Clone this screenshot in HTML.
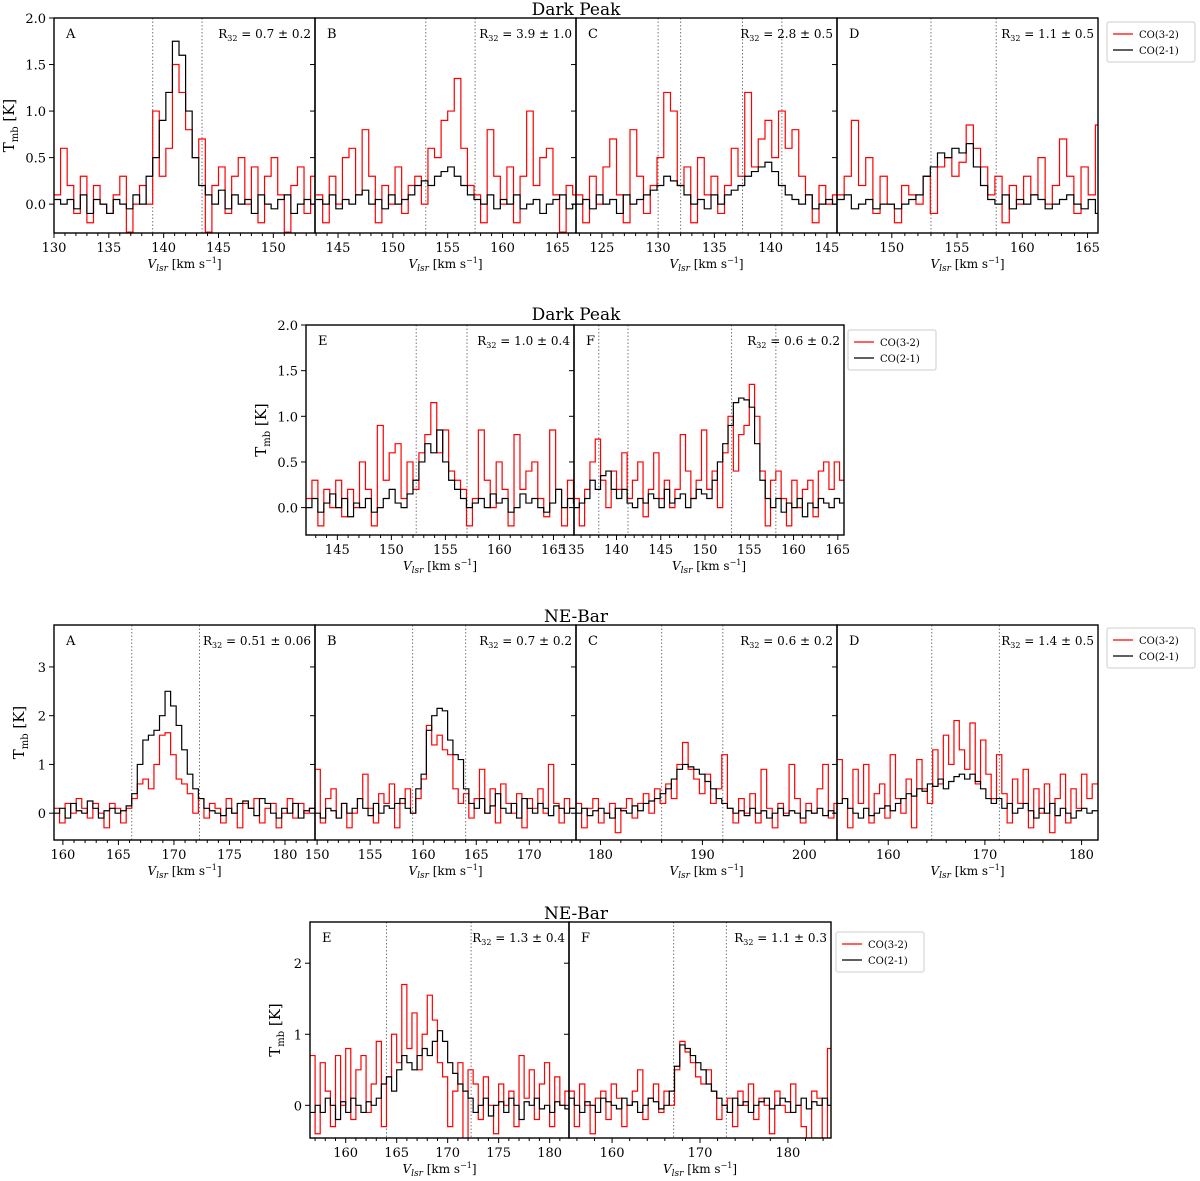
<!DOCTYPE html>
<html><head><meta charset="utf-8"><style>
body{margin:0;background:#fff;}
svg{display:block;font-family:"DejaVu Serif","Liberation Serif",serif;}
</style></head><body>
<svg id="fig" width="1200" height="1181" viewBox="0 0 1200 1181" xmlns="http://www.w3.org/2000/svg"></svg>
<script>
// ---- data: channel start velocities, channel widths, brightness temperatures ----
const dpA_v0=130, dpA_dv=0.6;
const dpA_red=[0.1,0.6,0.2,-0.1,0.3,-0.2,0.2,0.0,-0.1,0.1,0.3,-0.3,0.0,0.2,0.0,1.0,0.3,0.6,1.5,1.2,0.8,0.5,0.7,-0.3,0.2,0.4,-0.1,0.3,0.5,0.0,0.4,-0.2,0.3,0.5,0.1,-0.3,0.2,0.4,-0.1,0.3];
const dpA_black=[0.05,0.0,0.05,-0.05,0.1,-0.1,0.05,0.0,-0.1,0.05,0.0,-0.05,0.1,0.0,0.3,0.5,0.9,1.2,1.75,1.6,1.0,0.5,0.2,0.1,0.0,0.15,-0.05,0.1,0.0,0.05,-0.1,0.1,0.0,-0.05,0.05,0.1,-0.1,0.0,0.05,0.0];
const dpB_v0=143, dpB_dv=0.6;
const dpB_red=[0.1,-0.2,0.3,0.0,0.5,0.6,0.1,0.8,0.3,-0.2,0.2,0.0,0.4,-0.1,0.2,0.3,0.0,0.6,0.5,0.9,1.0,1.35,0.6,0.2,0.1,-0.2,0.8,0.3,0.0,0.4,-0.2,0.3,1.0,0.2,0.5,0.6,0.1,-0.3,0.2,0.1];
const dpB_black=[0.05,0.0,0.1,-0.05,0.05,0.0,0.1,0.15,0.0,0.05,-0.05,0.1,0.0,0.05,0.1,0.2,0.25,0.2,0.3,0.35,0.4,0.3,0.2,0.1,0.05,0.0,0.1,-0.05,0.05,0.0,0.1,-0.05,0.0,0.05,-0.1,0.0,0.05,0.1,-0.05,0.0];
const dpC_v0=122.7, dpC_dv=0.6;
const dpC_red=[0.1,-0.2,0.3,0.0,0.4,0.7,0.1,-0.2,0.8,0.3,-0.1,0.2,0.5,1.2,1.0,0.2,0.4,-0.2,0.5,0.1,0.3,-0.1,0.2,0.6,0.3,1.2,0.4,0.7,0.9,0.5,1.0,0.6,0.8,0.3,0.1,-0.2,0.2,0.0,0.1];
const dpC_black=[0.0,0.05,-0.05,0.1,0.0,0.05,-0.1,0.1,0.0,0.05,0.1,0.15,0.2,0.3,0.25,0.2,0.1,0.0,0.05,-0.05,0.1,0.0,0.1,0.15,0.2,0.3,0.35,0.4,0.45,0.35,0.2,0.1,0.05,0.0,0.1,-0.05,0.0,0.05,0.0];
const dpD_v0=145.8, dpD_dv=0.55;
const dpD_red=[0.1,0.3,0.9,0.2,0.5,-0.1,0.3,0.0,-0.2,0.2,0.1,0.0,0.3,-0.1,0.4,0.5,0.3,0.45,0.85,0.6,0.4,0.1,0.3,-0.2,0.2,0.0,0.3,0.1,0.5,0.0,0.2,0.7,0.3,-0.1,0.4,0.1,0.85];
const dpD_black=[0.05,0.1,-0.05,0.0,0.05,-0.05,0.0,0.0,-0.05,0.0,0.05,0.1,0.3,0.4,0.55,0.5,0.6,0.55,0.65,0.4,0.2,0.05,0.0,0.1,-0.05,0.05,0.0,0.1,0.05,-0.05,0.0,0.05,0.1,0.0,-0.05,0.05,-0.1];
const dpE_v0=142.1, dpE_dv=0.55;
const dpE_red=[0.1,0.3,-0.2,0.2,0.0,0.3,-0.1,0.2,0.0,0.5,0.2,-0.2,0.9,0.3,0.6,0.7,0.1,0.5,0.2,0.6,0.8,1.15,0.6,0.85,0.4,0.3,0.2,-0.2,0.1,0.85,0.3,0.0,0.5,0.2,-0.2,0.8,0.2,0.4,0.5,0.1,-0.1,0.85,0.2,-0.2,0.3,0.1];
const dpE_black=[0.0,0.1,-0.05,0.05,0.15,0.0,0.1,-0.1,0.05,0.0,0.1,-0.05,0.0,0.1,0.2,0.05,0.0,0.15,0.3,0.5,0.7,0.6,0.85,0.5,0.3,0.2,0.1,0.0,0.05,0.1,0.0,0.15,0.05,0.1,-0.05,0.0,0.15,0.05,0.1,0.0,-0.05,0.05,0.2,0.0,0.1,0.05];
const dpF_v0=135.2, dpF_dv=0.6;
const dpF_red=[0.1,-0.2,0.2,0.5,0.75,0.3,0.0,0.4,0.2,0.6,0.1,0.3,0.5,-0.1,0.2,0.6,0.1,0.3,0.0,0.2,0.8,0.4,0.1,0.3,0.85,0.2,0.4,0.0,0.6,1.0,0.4,0.8,0.9,1.35,1.0,0.4,-0.2,0.3,0.4,0.1,-0.2,0.3,0.0,0.2,0.3,-0.1,0.4,0.5,0.2,0.5,0.3];
const dpF_black=[0.0,0.05,0.1,0.3,0.2,0.35,0.4,0.2,0.1,0.2,0.05,0.0,0.1,0.05,0.15,0.1,0.0,0.2,0.05,0.1,0.15,0.0,0.1,0.2,0.15,0.1,0.3,0.5,0.7,0.9,1.15,1.2,1.18,1.1,0.7,0.3,0.1,0.0,0.1,-0.05,0.05,0.0,0.1,-0.1,0.05,0.0,0.1,0.05,0.0,0.1,0.05];
const neA_v0=159.2, neA_dv=0.5;
const neA_red=[0.1,-0.2,0.2,0.0,0.3,0.1,-0.1,0.2,0.0,-0.3,0.2,0.1,-0.2,0.1,0.3,0.6,0.7,0.5,1.0,1.6,1.65,1.2,0.7,0.6,0.4,0.0,0.3,-0.1,0.2,0.1,-0.2,0.3,0.0,-0.3,0.2,0.1,0.3,-0.2,0.1,0.2,-0.3,0.0,0.3,-0.1,0.2,0.0,0.1];
const neA_black=[0.0,0.1,-0.1,0.2,0.05,0.0,0.25,0.1,-0.1,0.05,0.1,0.0,0.05,0.15,0.4,1.0,1.5,1.6,1.7,2.0,2.5,2.2,1.8,1.3,0.8,0.5,0.3,0.1,0.05,0.0,-0.05,0.1,0.0,0.2,0.25,0.1,-0.05,0.3,0.2,0.0,-0.1,0.1,0.0,0.2,-0.1,0.05,0.1];
const neB_v0=149.8, neB_dv=0.5;
const neB_red=[0.9,-0.2,0.3,0.5,-0.1,0.2,-0.3,0.0,0.3,0.8,0.1,-0.2,0.4,0.2,0.6,-0.3,0.2,0.5,0.0,0.3,0.7,1.8,1.4,1.6,1.3,1.2,0.5,0.2,0.4,-0.1,0.3,0.9,0.0,0.5,-0.2,0.6,0.2,0.0,0.4,-0.3,0.3,0.1,0.5,0.0,1.0,0.2,-0.2,0.3,0.1];
const neB_black=[0.0,-0.1,0.1,0.05,-0.1,0.2,0.0,0.1,0.3,0.1,-0.05,0.2,0.0,0.15,0.1,0.2,0.3,0.1,0.0,0.5,0.8,1.7,2.0,2.15,2.1,1.5,1.2,1.1,0.5,0.2,0.1,0.3,0.0,0.15,0.4,0.1,0.0,0.2,-0.1,0.3,0.1,0.0,0.2,0.1,-0.05,0.15,0.1,0.0,0.1];
const neC_v0=177.6, neC_dv=0.55;
const neC_red=[0.2,-0.3,0.1,0.3,-0.2,0.0,0.2,-0.4,0.1,0.3,-0.1,0.2,0.4,0.0,0.5,0.2,0.6,0.3,1.0,1.45,0.9,0.7,0.4,0.8,0.2,0.5,1.2,0.1,-0.2,0.3,0.0,0.4,-0.2,0.9,0.1,-0.3,0.2,0.0,1.0,0.3,-0.2,0.2,0.0,0.5,1.0,-0.1,0.2];
const neC_black=[0.0,0.1,-0.05,0.05,0.1,0.0,-0.1,0.1,0.05,0.0,0.15,0.05,0.2,0.25,0.3,0.4,0.5,0.7,0.9,1.0,0.95,0.9,0.8,0.65,0.5,0.3,0.2,0.1,0.0,0.05,-0.05,0.1,0.0,0.05,-0.1,0.0,0.1,-0.05,0.05,0.0,-0.1,0.05,0.0,0.1,-0.05,0.05,0.0];
const neD_v0=154.7, neD_dv=0.55;
const neD_red=[1.1,0.3,-0.3,0.9,0.2,1.0,-0.2,0.4,0.6,-0.1,1.2,0.3,0.0,0.7,-0.3,1.1,0.5,0.2,1.3,0.6,1.6,1.0,1.9,1.3,0.9,1.85,0.6,1.5,0.8,0.3,1.2,0.4,-0.2,0.7,0.2,0.9,-0.3,0.5,0.0,0.6,-0.4,0.3,0.8,-0.2,0.5,0.1,0.8,0.3,0.6];
const neD_black=[0.2,0.3,0.1,0.0,-0.1,0.1,-0.05,0.0,0.1,0.15,0.05,0.2,0.3,0.4,0.35,0.5,0.45,0.6,0.55,0.7,0.5,0.65,0.75,0.8,0.7,0.8,0.65,0.5,0.3,0.2,0.3,0.1,0.2,0.0,0.1,0.2,0.05,-0.1,0.1,0.0,0.2,-0.05,0.1,0.0,-0.1,0.05,0.1,0.0,0.05];
const neE_v0=156.5, neE_dv=0.5;
const neE_red=[0.7,-0.4,0.6,0.2,-0.3,0.7,0.0,0.8,-0.2,0.5,0.7,-0.1,0.3,0.9,-0.3,0.4,1.0,0.6,1.7,0.8,1.3,0.5,1.0,1.55,1.2,0.6,0.4,-0.3,0.2,0.6,-0.5,0.5,0.3,-0.2,0.4,0.0,-0.4,0.3,0.0,0.2,-0.3,0.7,0.1,0.5,-0.2,0.3,0.6,-0.3,0.4,0.0,0.2];
const neE_black=[-0.1,0.0,-0.1,0.1,0.0,-0.2,0.05,-0.1,0.1,0.0,-0.1,0.05,0.0,0.1,0.3,0.4,0.2,0.5,0.7,0.6,0.5,0.7,0.8,0.7,0.9,1.05,0.9,0.6,0.45,0.3,0.2,0.1,-0.1,0.0,0.1,-0.15,0.0,0.05,-0.1,0.1,0.0,-0.2,0.05,0.0,0.1,-0.05,0.0,-0.1,0.05,0.0,-0.05];
const neF_v0=155.1, neF_dv=0.6;
const neF_red=[0.2,-0.3,0.3,0.0,-0.4,0.1,0.2,-0.2,0.3,0.1,-0.3,0.0,0.2,0.5,-0.2,0.1,0.3,-0.1,0.2,0.0,0.5,0.9,0.75,0.6,0.4,0.3,0.5,0.2,-0.2,0.0,0.1,-0.3,0.2,0.0,0.3,-0.2,0.1,0.0,-0.4,0.2,0.0,-0.1,0.3,0.0,-0.3,-0.5,0.2,0.1,-0.6,0.8];
const neF_black=[0.1,0.0,-0.1,0.05,0.0,-0.1,0.1,0.05,0.0,-0.05,0.1,0.0,0.05,-0.1,0.0,0.1,0.05,-0.05,0.0,0.2,0.55,0.85,0.8,0.7,0.6,0.5,0.3,0.2,0.1,0.0,-0.1,0.1,0.0,0.05,-0.1,0.0,0.05,0.1,-0.05,0.0,0.1,0.05,-0.1,0.0,0.1,-0.05,0.05,0.0,0.1,0.0];
const dpYTicks=[0,0.5,1.0,1.5,2.0], dpYLabels=["0.0","0.5","1.0","1.5","2.0"];
const ne3YTicks=[0,1,2,3], ne4YTicks=[0,1,2];
const ratios=["0.7 ± 0.2","3.9 ± 1.0","2.8 ± 0.5","1.1 ± 0.5","1.0 ± 0.4","0.6 ± 0.2","0.51 ± 0.06","0.7 ± 0.2","0.6 ± 0.2","1.4 ± 0.5","1.3 ± 0.4","1.1 ± 0.3"];

const NS="http://www.w3.org/2000/svg";
const svg=document.getElementById('fig');
function el(tag,attrs,parent,text){const e=document.createElementNS(NS,tag);for(const k in attrs)e.setAttribute(k,attrs[k]);if(text!==undefined)e.textContent=text;(parent||svg).appendChild(e);return e;}

const panels=[
 {id:'dp-a',L:'A',x0:54,x1:315,y0:18,y1:233,vmin:130,vmax:153.8,ymin:-0.31,ymax:2.0,yt:dpYTicks,yl:dpYLabels,xt:[130,135,140,145,150],minor:1,v:dpA_v0,dv:dpA_dv,r:dpA_red,b:dpA_black,vl:[139,143.5],R:0,ylab:true},
 {id:'dp-b',L:'B',x0:315,x1:576,y0:18,y1:233,vmin:142.9,vmax:166.7,ymin:-0.31,ymax:2.0,yt:dpYTicks,xt:[145,150,155,160,165],minor:1,v:dpB_v0,dv:dpB_dv,r:dpB_red,b:dpB_black,vl:[153,157.5],R:1},
 {id:'dp-c',L:'C',x0:576,x1:837,y0:18,y1:233,vmin:122.7,vmax:145.9,ymin:-0.31,ymax:2.0,yt:dpYTicks,xt:[125,130,135,140,145],minor:1,v:dpC_v0,dv:dpC_dv,r:dpC_red,b:dpC_black,vl:[130,132,137.5,141],R:2},
 {id:'dp-d',L:'D',x0:837,x1:1098,y0:18,y1:233,vmin:145.8,vmax:165.8,ymin:-0.31,ymax:2.0,yt:dpYTicks,xt:[150,155,160,165],minor:1,v:dpD_v0,dv:dpD_dv,r:dpD_red,b:dpD_black,vl:[153,158],R:3},
 {id:'dp-e',L:'E',x0:306,x1:574,y0:325,y1:535,vmin:142.1,vmax:166.9,ymin:-0.3,ymax:2.0,yt:dpYTicks,yl:dpYLabels,xt:[145,150,155,160,165],minor:1,v:dpE_v0,dv:dpE_dv,r:dpE_red,b:dpE_black,vl:[152.3,157],R:4,ylab:true},
 {id:'dp-f',L:'F',x0:574,x1:844,y0:325,y1:535,vmin:135.2,vmax:165.7,ymin:-0.3,ymax:2.0,yt:dpYTicks,xt:[135,140,145,150,155,160,165],minor:1,v:dpF_v0,dv:dpF_dv,r:dpF_red,b:dpF_black,vl:[138,141.3,153,158],R:5},
 {id:'ne-a',L:'A',x0:54,x1:315,y0:625,y1:840,vmin:159.2,vmax:182.7,ymin:-0.55,ymax:3.86,yt:ne3YTicks,yl:["0","1","2","3"],xt:[160,165,170,175,180],minor:1,v:neA_v0,dv:neA_dv,r:neA_red,b:neA_black,vl:[166.2,172.3],R:6,ylab:true},
 {id:'ne-b',L:'B',x0:315,x1:576,y0:625,y1:840,vmin:149.8,vmax:174.4,ymin:-0.55,ymax:3.86,yt:ne3YTicks,xt:[150,155,160,165,170],minor:1,v:neB_v0,dv:neB_dv,r:neB_red,b:neB_black,vl:[159,164],R:7},
 {id:'ne-c',L:'C',x0:576,x1:837,y0:625,y1:840,vmin:177.6,vmax:203.2,ymin:-0.55,ymax:3.86,yt:ne3YTicks,xt:[180,190,200],minor:2,v:neC_v0,dv:neC_dv,r:neC_red,b:neC_black,vl:[186,192],R:8},
 {id:'ne-d',L:'D',x0:837,x1:1098,y0:625,y1:840,vmin:154.7,vmax:181.7,ymin:-0.55,ymax:3.86,yt:ne3YTicks,xt:[160,170,180],minor:2,v:neD_v0,dv:neD_dv,r:neD_red,b:neD_black,vl:[164.5,171.5],R:9},
 {id:'ne-e',L:'E',x0:310,x1:569,y0:922,y1:1138,vmin:156.5,vmax:181.9,ymin:-0.46,ymax:2.58,yt:ne4YTicks,yl:["0","1","2"],xt:[160,165,170,175,180],minor:1,v:neE_v0,dv:neE_dv,r:neE_red,b:neE_black,vl:[164,172.3],R:10,ylab:true},
 {id:'ne-f',L:'F',x0:569,x1:831,y0:922,y1:1138,vmin:155.1,vmax:184.9,ymin:-0.46,ymax:2.58,yt:ne4YTicks,xt:[160,170,180],minor:2,v:neF_v0,dv:neF_dv,r:neF_red,b:neF_black,vl:[167,173],R:11}
];

// titles
const titles=[[576,15,'Dark Peak'],[576,320,'Dark Peak'],[576,622,'NE-Bar'],[576,919,'NE-Bar']];
titles.forEach((t,i)=>{const e=el('text',{x:t[0],y:t[1],'text-anchor':'middle','font-size':17},svg,t[2]);

});

panels.forEach((p,pi)=>{
 const g=el('g',{});
 
 
 const X=v=>p.x0+(v-p.vmin)/(p.vmax-p.vmin)*(p.x1-p.x0);
 const Y=t=>p.y1-(t-p.ymin)/(p.ymax-p.ymin)*(p.y1-p.y0);
 const cid='clip-'+p.id;
 const cp=el('clipPath',{id:cid},g);el('rect',{x:p.x0,y:p.y0,width:p.x1-p.x0,height:p.y1-p.y0},cp);
 const pg=el('g',{'clip-path':'url(#'+cid+')'},g);
 // vertical dotted lines
 p.vl.forEach(v=>{const l=el('line',{x1:X(v),x2:X(v),y1:p.y0,y2:p.y1,stroke:'#777','stroke-width':1,'stroke-dasharray':'1.5,2'},pg);
  
  });
 function step(arr,v0,dv,col,name){
  let d='';
  arr.forEach((t,i)=>{const xa=X(v0+i*dv),xb=X(v0+(i+1)*dv),y=Y(t);d+=(i===0?'M'+xa+','+y:'L'+xa+','+y)+'L'+xb+','+y;});
  const pa=el('path',{d:d,fill:'none',stroke:col,'stroke-width':1.2},pg);
  
  
 }
 step(p.r,p.v,p.dv,'#f00','co32-spectrum');
 step(p.b,p.v,p.dv,'#000','co21-spectrum');
 // frame
 const fr=el('rect',{x:p.x0,y:p.y0,width:p.x1-p.x0,height:p.y1-p.y0,fill:'none',stroke:'#000','stroke-width':1.4},g);
 
 
 // x ticks
 for(let v=Math.ceil(p.vmin/p.minor)*p.minor;v<=p.vmax;v+=p.minor){
  const major=p.xt.includes(v);
  el('line',{x1:X(v),x2:X(v),y1:p.y1,y2:p.y1+(major?5:3),stroke:'#000','stroke-width':1},g);
 }
 p.xt.forEach(v=>{const t=el('text',{x:X(v),y:p.y1+19,'text-anchor':'middle','font-size':13},g,String(v));
  
  });
 const xl=el('text',{x:(p.x0+p.x1)/2,y:p.y1+35,'text-anchor':'middle','font-size':12},g);
 
 
 el('tspan',{'font-style':'italic'},xl,'V');el('tspan',{'font-style':'italic','font-size':9,dy:3},xl,'lsr');el('tspan',{dy:-3},xl,' [km s');el('tspan',{'font-size':8,dy:-5},xl,'−1');el('tspan',{dy:5},xl,']');
 // y ticks
 p.yt.forEach((t,i)=>{el('line',{x1:p.x0-5,x2:p.x0,y1:Y(t),y2:Y(t),stroke:'#000','stroke-width':1},g);
  if(p.yl){const tl=el('text',{x:p.x0-8,y:Y(t)+5,'text-anchor':'end','font-size':13},g,p.yl[i]);
   
   }});
 if(p.ylab){const cy=(p.y0+p.y1)/2,cx=p.x0-(p.yl[0].length>1?40:30);
  const yt=el('text',{x:cx,y:cy,'text-anchor':'middle','font-size':15,transform:'rotate(-90 '+cx+' '+cy+')'},g);
  
  
  el('tspan',{},yt,'T');el('tspan',{'font-size':10,dy:4},yt,'mb');el('tspan',{dy:-4},yt,' [K]');}
 // panel letter & ratio
 const lt=el('text',{x:p.x0+12,y:p.y0+20,'font-size':13},g,p.L);
 
 
 const rt=el('text',{x:p.x1-4,y:p.y0+20,'text-anchor':'end','font-size':12},g);
 
 
 el('tspan',{},rt,'R');el('tspan',{'font-size':8,dy:3},rt,'32');el('tspan',{dy:-3},rt,' = '+ratios[p.R]);
});

// legends
const legends=[[1107,22],[848,330],[1107,628],[836,932]];
legends.forEach((L,i)=>{
 const g=el('g',{});
 
 
 el('rect',{x:L[0],y:L[1],width:88,height:40,fill:'#fff',stroke:'#ccc','stroke-width':1,rx:2},g);
 [['#f00','CO(3-2)'],['#000','CO(2-1)']].forEach((e,j)=>{
  const yy=L[1]+12+j*16;
  const ln=el('line',{x1:L[0]+6,x2:L[0]+26,y1:yy,y2:yy,stroke:e[0],'stroke-width':1.2},g);
  
  
  const t=el('text',{x:L[0]+32,y:yy+4,'font-size':10},g,e[1]);
  
  
 });
});
</script>
</body></html>
